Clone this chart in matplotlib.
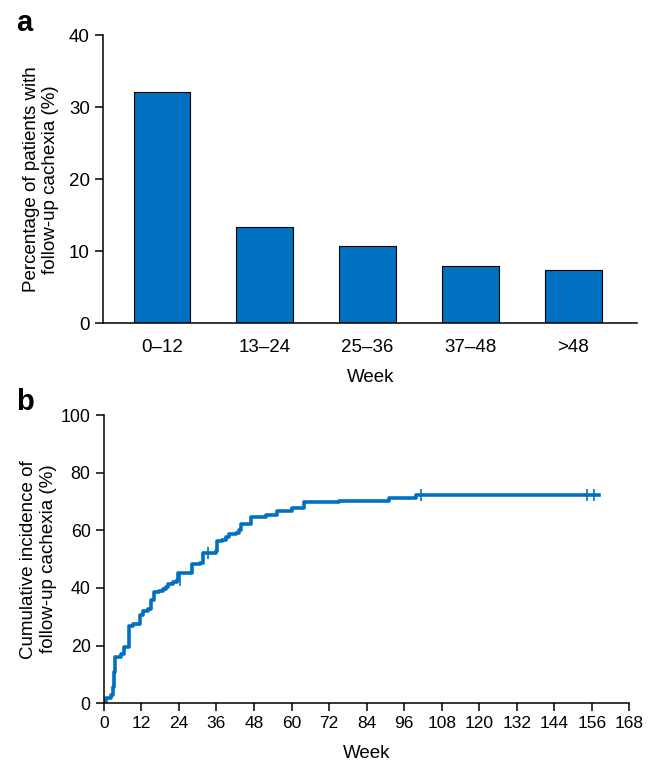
import matplotlib
matplotlib.use("Agg")
import matplotlib.pyplot as plt

plt.rcParams['font.family'] = ['Liberation Sans', 'DejaVu Sans']
plt.rcParams['font.size'] = 13.5
plt.rcParams['axes.linewidth'] = 1.1

# panel a data
groups = ["0\u201312", "13\u201324", "25\u201336", "37\u201348", ">48"]
pct = [32.1, 13.3, 10.7, 7.9, 7.4]

# panel b data (step curve, week vs cumulative incidence %)
weeks = [0, 0.8, 2.4, 3.0, 3.3, 3.7, 5.6, 6.5, 6.9, 8.0, 9.3, 11.5, 12.5, 14.1,
         15.2, 15.9, 17.8, 18.9, 20.0, 20.5, 22.1, 23.5, 23.7, 28.2, 30.6, 31.8,
         35.9, 36.1, 37.8, 39.1, 39.9, 42.3, 43.3, 43.8, 47.2, 51.8, 55.3, 60.1,
         64.1, 75.3, 91.3, 99.8, 158.3]
cum = [0, 1.7, 2.7, 5.6, 10.8, 16.0, 17.0, 19.5, 19.5, 26.7, 27.6, 30.5, 31.9, 32.8,
       35.7, 38.6, 38.8, 39.7, 40.3, 41.5, 42.1, 42.6, 45.2, 48.4, 48.7, 52.1,
       53.0, 56.2, 56.5, 57.7, 58.9, 59.1, 60.0, 62.3, 64.7, 65.5, 66.6, 67.6,
       69.9, 70.3, 71.3, 72.2, 72.2]
censor_w = [24.2, 33.2, 101.4, 154.5, 156.7]
censor_c = [42.6, 52.1, 72.2, 72.2, 72.2]

blue = "#0070C0"

fig = plt.figure(figsize=(6.57, 7.66), dpi=100)

ax1 = fig.add_axes([0.157, 0.578, 0.813, 0.376])
ax1.bar(range(len(groups)), pct, width=0.55, color=blue, edgecolor="black", linewidth=0.8)
ax1.set_xticks(range(len(groups)))
ax1.set_xticklabels(groups)
ax1.tick_params(axis="x", length=0, pad=11)
ax1.tick_params(axis="y", length=6, width=1.1, direction="out")
ax1.set_xlim(-0.57, 4.62)
ax1.set_ylim(0, 40)
ax1.set_yticks([0, 10, 20, 30, 40])
ax1.set_ylabel("Percentage of patients with\nfollow-up cachexia (%)", labelpad=7)
ax1.set_xlabel("Week", labelpad=10)
for s in ["top", "right"]:
    ax1.spines[s].set_visible(False)

ax2 = fig.add_axes([0.158, 0.082, 0.80, 0.376])
ax2.plot(weeks, cum, drawstyle="steps-post", color=blue, linewidth=2.6)
ax2.plot(censor_w, censor_c, "|", color=blue, markersize=8, markeredgewidth=1.2)
ax2.set_xlim(0, 168)
ax2.set_ylim(0, 100)
ax2.set_xticks(range(0, 169, 12))
ax2.set_yticks(range(0, 101, 20))
ax2.tick_params(length=6, width=1.1, direction="out")
ax2.tick_params(axis="x", labelsize=12.5)
ax2.tick_params(axis="y", labelsize=12.8)
ax2.set_ylabel("Cumulative incidence of\nfollow-up cachexia (%)", labelpad=3)
ax2.set_xlabel("Week", labelpad=10)
for s in ["top", "right"]:
    ax2.spines[s].set_visible(False)

fig.text(0.025, 0.97, "a", fontsize=21, fontweight="bold", va="center")
fig.text(0.025, 0.475, "b", fontsize=21, fontweight="bold", va="center")

fig.savefig("out.png", dpi=100)
